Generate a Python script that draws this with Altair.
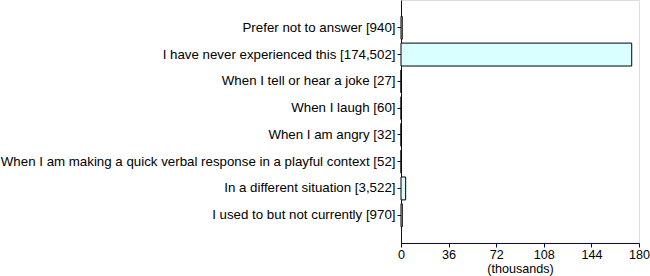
import altair as alt
import pandas as pd

names = [
    "Prefer not to answer",
    "I have never experienced this",
    "When I tell or hear a joke",
    "When I laugh",
    "When I am angry",
    "When I am making a quick verbal response in a playful context",
    "In a different situation",
    "I used to but not currently",
]
counts = [940, 174502, 27, 60, 32, 52, 3522, 970]
x_ticks = [0, 36, 72, 108, 144, 180]

labels = [f"{n} [{c:,}]" for n, c in zip(names, counts)]
df = pd.DataFrame({"label": labels, "thousands": [c / 1000 for c in counts]})

font = "Liberation Sans"
axis_color = "#000080"
fs = 13.3
fx = 12.6

chart = alt.Chart(df).mark_bar(
    fill="#d9ffff", stroke="#000000", strokeWidth=1
).encode(
    y=alt.Y(
        "label:N",
        sort=labels,
        title=None,
        scale=alt.Scale(paddingInner=0.144, paddingOuter=0.61),
        axis=alt.Axis(
            labelLimit=0, labelFont=font, labelFontSize=fs, labelColor="#000000",
            domainColor=axis_color, tickColor=axis_color, tickSize=4,
            labelPadding=2, grid=False,
        ),
    ),
    x=alt.X(
        "thousands:Q",
        title="(thousands)",
        scale=alt.Scale(domain=[0, 180], nice=False),
        axis=alt.Axis(
            values=x_ticks, labelFont=font, labelFontSize=fx, labelColor="#000000",
            titleFont=font, titleFontSize=fx, titleFontWeight="normal", titleColor="#000000",
            domainColor=axis_color, tickColor=axis_color, tickSize=4,
            labelPadding=1, titlePadding=2, grid=False, labelFlush=False,
        ),
    ),
).properties(
    width=238, height=243,
    autosize=alt.AutoSizeParams(type="none"),
    padding={"left": 401, "top": 0, "right": 11, "bottom": 33},
).configure_view(stroke=None).configure(background="#ffffff")

chart.save("out.html", embed_options={"renderer": "svg", "actions": False})
